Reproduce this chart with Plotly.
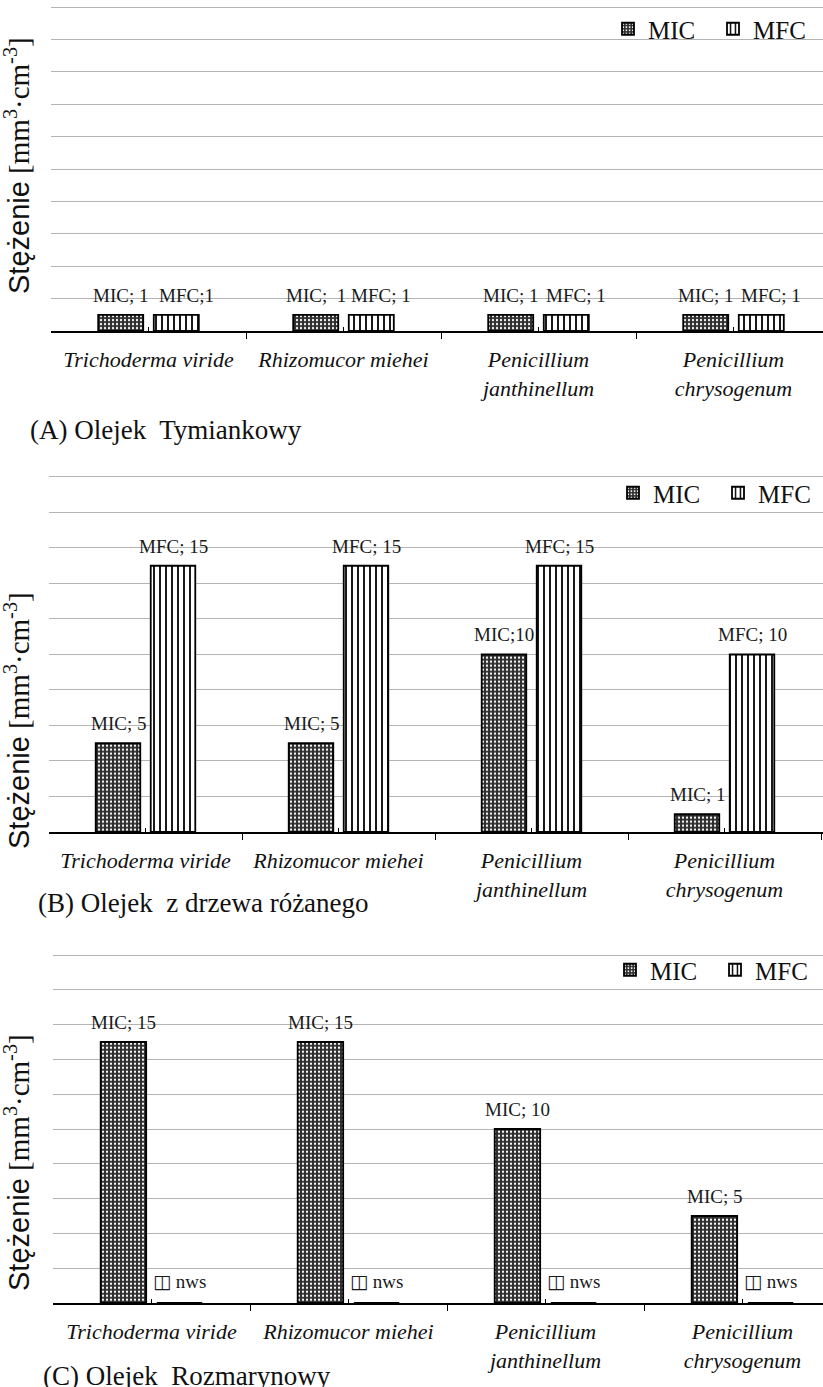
import plotly.graph_objects as go

# ---------------- data ----------------
CATEGORIES = ["Trichoderma viride", "Rhizomucor miehei",
              "Penicillium<br>janthinellum", "Penicillium<br>chrysogenum"]
SERIES = ["MIC", "MFC"]

A_MIC = [1, 1, 1, 1]
A_MFC = [1, 1, 1, 1]
A_MIC_LABELS = ["MIC; 1", "MIC;  1", "MIC; 1", "MIC; 1"]
A_MFC_LABELS = ["MFC;1", "MFC; 1", "MFC; 1", "MFC; 1"]

B_MIC = [5, 5, 10, 1]
B_MFC = [15, 15, 15, 10]
B_MIC_LABELS = ["MIC; 5", "MIC; 5", "MIC;10", "MIC; 1"]
B_MFC_LABELS = ["MFC; 15", "MFC; 15", "MFC; 15", "MFC; 10"]

C_MIC = [15, 15, 10, 5]
C_MFC = [0, 0, 0, 0]
C_MIC_LABELS = ["MIC; 15", "MIC; 15", "MIC; 10", "MIC; 5"]
C_MFC_LABELS = ["nws", "nws", "nws", "nws"]

TITLES = ["(A) Olejek  Tymiankowy", "(B) Olejek  z drzewa różanego", "(C) Olejek  Rozmarynowy"]
Y_TITLE = "Stężenie"
Y_UNIT = "[mm<sup>3</sup>·cm<sup>-3</sup>]"
Y_MAX = 20
Y_STEP = 2

# ---------------- layout config (pixels) ----------------
W, H = 823, 1387
BARGAP = 0.43
BARGROUPGAP = 0.19
SERIF = "Liberation Serif"
SANS = "Liberation Sans"
Y_PAD = 1.015   # small headroom so the top grid line is drawn

panels = [
    dict(mic=A_MIC, mfc=A_MFC, mic_lab=A_MIC_LABELS, mfc_lab=A_MFC_LABELS,
         top=7, bottom=331, left=51, catw=195, leg_y=29, leg_x=818,
         title_x=28, title_y=430, ytitle_y=166, mfc_shift=10, nws=False),
    dict(mic=B_MIC, mfc=B_MFC, mic_lab=B_MIC_LABELS, mfc_lab=B_MFC_LABELS,
         top=477, bottom=832, left=49, catw=193, leg_y=493, leg_x=823,
         title_x=36, title_y=903, ytitle_y=721, mfc_shift=0, nws=False),
    dict(mic=C_MIC, mfc=C_MFC, mic_lab=C_MIC_LABELS, mfc_lab=C_MFC_LABELS,
         top=955, bottom=1303, left=53, catw=197, leg_y=970, leg_x=820,
         title_x=41, title_y=1376, ytitle_y=1163, mfc_shift=0, nws=True),
]


def py(p):
    return 1 - p / H


POS = list(range(len(CATEGORIES)))
OFF = (1 - BARGAP) / 4

MIC_MARKER = dict(color="#2e2e2e", line=dict(color="black", width=1.8),
                  pattern=dict(shape=".", fgcolor="white", bgcolor="#2e2e2e",
                               size=4, solidity=0.25, fillmode="replace"))
MFC_MARKER = dict(color="white", line=dict(color="black", width=1.8),
                  pattern=dict(shape="|", fgcolor="black", bgcolor="white",
                               size=6, solidity=0.3, fillmode="replace"))

LABEL_FONT = dict(family=SERIF, size=19, color="#1a1a1a")

fig = go.Figure()
annotations = []
layout = {}

for k, p in enumerate(panels, start=1):
    sfx = "" if k == 1 else str(k)
    leg = "legend" + sfx
    fig.add_trace(go.Bar(x=POS, y=p["mic"], name=SERIES[0], marker=MIC_MARKER,
                         xaxis="x" + sfx, yaxis="y" + sfx, legend=leg,
                         hoverinfo="skip"))
    fig.add_trace(go.Bar(x=POS, y=p["mfc"], name=SERIES[1], marker=MFC_MARKER,
                         xaxis="x" + sfx, yaxis="y" + sfx, legend=leg,
                         hoverinfo="skip"))

    top_px = p["bottom"] - (p["bottom"] - p["top"]) * Y_PAD

    layout["xaxis" + sfx] = dict(
        domain=[p["left"] / W, 1],
        range=[-0.5, (W - p["left"]) / p["catw"] - 0.5],
        anchor="y" + sfx, type="linear",
        tickmode="array", tickvals=POS, ticktext=CATEGORIES,
        ticks="inside", ticklen=4, tickwidth=1, tickcolor="black",
        minor=dict(tick0=-0.5, dtick=1, ticks="outside", ticklen=6,
                   tickwidth=1, tickcolor="black", showgrid=False),
        showline=True, linecolor="black", linewidth=1.5,
        showgrid=False, zeroline=False,
        ticklabelstandoff=8,
        tickfont=dict(family=SERIF, size=22, color="#111", style="italic"),
    )
    layout["yaxis" + sfx] = dict(
        domain=[py(p["bottom"]), py(top_px)],
        range=[0, Y_MAX * Y_PAD], dtick=Y_STEP, tick0=0,
        anchor="x" + sfx, showticklabels=False, ticks="",
        showgrid=True, gridcolor="#b4b4b4", gridwidth=1,
        zeroline=False, showline=False,
    )
    layout[leg] = dict(
        orientation="h", xref="paper", yref="paper",
        x=p["leg_x"] / W, xanchor="right",
        y=py(p["leg_y"]), yanchor="middle",
        font=dict(family=SERIF, size=25, color="#111"),
        bgcolor="rgba(0,0,0,0)", entrywidth=60, traceorder="normal",
    )

    # data labels
    for i in POS:
        annotations.append(dict(
            xref="x" + sfx, yref="y" + sfx, x=POS[i] - OFF, y=p["mic"][i],
            text=p["mic_lab"][i], showarrow=False, yanchor="bottom", yshift=7,
            font=LABEL_FONT))
        if p["nws"]:
            txt = ("<span style='font-family:DejaVu Sans;font-size:19px;font-weight:bold'>◫</span> "
                   + p["mfc_lab"][i])
        else:
            txt = p["mfc_lab"][i]
        annotations.append(dict(
            xref="x" + sfx, yref="y" + sfx, x=POS[i] + OFF, y=p["mfc"][i],
            text=txt, showarrow=False, yanchor="bottom", yshift=9 if p["nws"] else 7,
            xshift=p["mfc_shift"], font=LABEL_FONT))

    # y axis title
    annotations.append(dict(
        xref="paper", yref="paper", x=17 / W, y=py(p["ytitle_y"]),
        xanchor="center", yanchor="middle", textangle=-90, showarrow=False,
        text="<span style='font-family:Liberation Sans'>" + Y_TITLE + "</span> " + Y_UNIT,
        font=dict(family=SERIF, size=29, color="#111")))

    # panel caption
    annotations.append(dict(
        xref="paper", yref="paper", x=p["title_x"] / W, y=py(p["title_y"]),
        xanchor="left", yanchor="middle", showarrow=False,
        text=TITLES[k - 1],
        font=dict(family=SERIF, size=27, color="#111")))

fig.update_layout(
    width=W, height=H, margin=dict(l=0, r=0, t=0, b=0, autoexpand=False),
    paper_bgcolor="white", plot_bgcolor="white",
    font=dict(family=SERIF, color="#111"),
    barmode="group", bargap=BARGAP, bargroupgap=BARGROUPGAP,
    annotations=annotations, **layout,
)

fig.write_html("out.html", config={"displayModeBar": False},
               post_script="document.body.style.margin='0';")
